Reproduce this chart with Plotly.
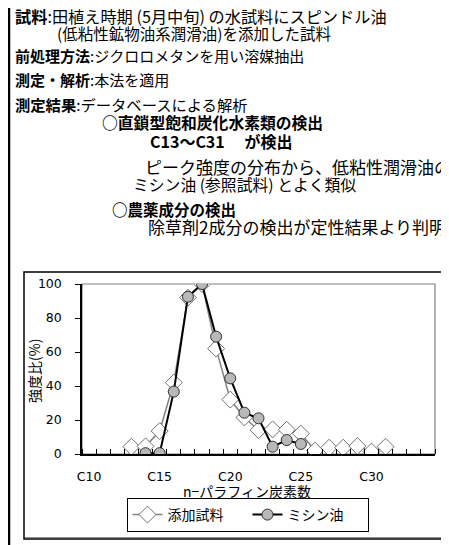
import plotly.graph_objects as go

# ---- data ----
carbon_tick_vals = [10, 15, 20, 25, 30]
carbon_tick_text = ["C10", "C15", "C20", "C25", "C30"]

sample_x = list(range(13, 32))
sample_y = [4.3, 4.5, 13.5, 42, 92, 100, 62, 32, 21.5, 14, 14.5, 14.3, 12, 2, 3.7, 3.7, 4.7, 1.4, 4.3]

sewing_x = list(range(14, 26))
sewing_y = [0.5, 0.5, 36.7, 92.5, 100, 69, 44.5, 24.3, 21, 4.3, 8.2, 5.9]

series_names = ["添加試料", "ミシン油"]

# page has an 8px body margin: work in screen coordinates, convert to figure coords
OFF = 8
W, H = 449 - OFF, 545 - OFF
L, R, T, B = 82 - OFF, 435 - OFF, 284 - OFF, 454 - OFF
FONT = "Noto Sans CJK JP"


def px(sx):
    return (sx - OFF - L) / (R - L)


def py(sy):
    return (B - (sy - OFF)) / (B - T)


fig = go.Figure()
fig.add_trace(go.Scatter(
    x=sample_x, y=sample_y, name=series_names[0], mode="lines+markers",
    line=dict(color="#808080", width=1.5),
    marker=dict(symbol="diamond", size=13, color="white", line=dict(color="#707070", width=1)),
))
fig.add_trace(go.Scatter(
    x=sewing_x, y=sewing_y, name=series_names[1], mode="lines+markers",
    line=dict(color="black", width=2),
    marker=dict(symbol="circle", size=11, color="#b8b8b8", line=dict(color="#303030", width=1)),
))

texts = [
    (13, 16.5, "<b>試料</b>:田植え時期 (5月中旬) の水試料にスピンドル油", 16.2),
    (55, 32.5, "(低粘性鉱物油系潤滑油)を添加した試料", 15.5),
    (13, 56, "<b>前処理方法</b>:ジクロロメタンを用い溶媒抽出", 15),
    (13, 80, "<b>測定・解析</b>:本法を適用", 15),
    (13, 104, "<b>測定結果</b>:データベースによる解析", 15.3),
    (100, 122, "<b>○直鎖型飽和炭化水素類の検出</b>", 15.8),
    (148, 141, "<b>C13～C31　 が検出</b>", 16),
    (143, 166, "ピーク強度の分布から、低粘性潤滑油の", 17),
    (131, 184, "ミシン油 (参照試料) とよく類似", 15.8),
    (110, 209, "<b>○農薬成分の検出</b>", 15.5),
    (146, 226, "除草剤2成分の検出が定性結果より判明", 17),
]
ann = []
for x, y, t, s in texts:
    ann.append(dict(x=px(x), y=py(y), xref="paper", yref="paper", text=t,
                    showarrow=False, xanchor="left", yanchor="middle",
                    font=dict(family=FONT, size=s, color="black")))
ann.append(dict(x=px(34), y=py(371), xref="paper", yref="paper", text="強度比(%)",
                showarrow=False, textangle=-90, xanchor="center", yanchor="middle",
                font=dict(family=FONT, size=14, color="black")))
ann.append(dict(x=px(247), y=py(491), xref="paper", yref="paper", text="n−パラフィン炭素数",
                showarrow=False, xanchor="center", yanchor="middle",
                font=dict(family=FONT, size=14, color="black")))

shapes = [
    # outer left border
    dict(type="line", xref="paper", yref="paper", x0=px(9), x1=px(9), y0=py(0), y1=py(560),
         line=dict(color="black", width=2.5), layer="above"),
    # chart box shadow
    dict(type="line", xref="paper", yref="paper", x0=px(25), x1=px(442), y0=py(537.5), y1=py(537.5),
         line=dict(color="#909090", width=1), layer="above"),
    # chart box
    dict(type="rect", xref="paper", yref="paper", x0=px(24), x1=px(442), y0=py(272), y1=py(539),
         line=dict(color="black", width=1.5), layer="above"),
    # plot area frame
    dict(type="rect", xref="paper", yref="paper", x0=0, x1=1, y0=0, y1=1,
         line=dict(color="#808080", width=1.2), layer="below"),
]

fig.update_layout(
    width=W, height=H, autosize=False,
    margin=dict(l=L, r=W - R, t=T, b=H - B, pad=0),
    paper_bgcolor="white", plot_bgcolor="white",
    font=dict(family=FONT, size=14, color="black"),
    annotations=ann, shapes=shapes,
    showlegend=True,
    legend=dict(orientation="h", x=px(247.5), y=py(498), xanchor="center", yanchor="top",
                bordercolor="black", borderwidth=1, bgcolor="white",
                font=dict(family=FONT, size=14), itemwidth=30,
                entrywidth=75, entrywidthmode="pixels",
                tracegroupgap=0),
)
fig.update_xaxes(
    range=[9.5, 34.5], tickvals=carbon_tick_vals, ticktext=carbon_tick_text,
    ticks="", showgrid=False, zeroline=False,
    showline=True, linecolor="black", linewidth=1.5,
    ticklabelstandoff=10,
    tickfont=dict(family="DejaVu Sans", size=12.5, color="black"),
    minor=dict(tick0=9.5, dtick=1, ticks="inside", ticklen=5, tickcolor="black", tickwidth=1, showgrid=False),
)
fig.update_yaxes(
    range=[0, 100], tickvals=[0, 20, 40, 60, 80, 100],
    ticks="outside", ticklen=5, tickcolor="black",
    showgrid=False, zeroline=False,
    showline=True, linecolor="black", linewidth=1.5,
    ticklabelstandoff=11,
    tickfont=dict(family="DejaVu Sans", size=12.5, color="black"),
)
fig.write_html("out.html")
